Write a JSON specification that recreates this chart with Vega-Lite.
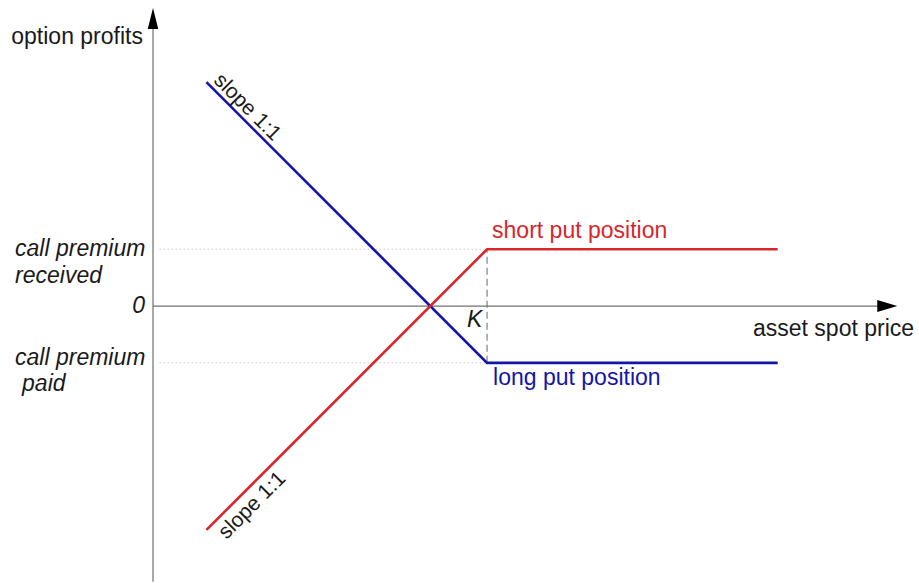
{
  "$schema": "https://vega.github.io/schema/vega-lite/v6.json",
  "width": 919,
  "height": 583,
  "padding": 0,
  "autosize": {"type": "fit", "contains": "padding"},
  "background": "white",
  "config": {"view": {"stroke": null}},
  "encoding": {
    "x": {"field": "x", "type": "quantitative", "scale": {"domain": [-45.8, 229.3], "nice": false, "zero": false}, "axis": null},
    "y": {"field": "y", "type": "quantitative", "scale": {"domain": [-82.9, 91.6], "nice": false, "zero": false}, "axis": null}
  },
  "layer": [
    {
      "data": {"values": [
        {"x": 2, "y": 17, "x2": 100, "y2": 17},
        {"x": 2, "y": -17, "x2": 100, "y2": -17}
      ]},
      "mark": {"type": "rule", "color": "#aaaaaa", "strokeWidth": 1, "strokeDash": [1, 3]},
      "encoding": {"x2": {"field": "x2"}, "y2": {"field": "y2"}}
    },
    {
      "data": {"values": [{"x": 100, "y": -17, "x2": 100, "y2": 17}]},
      "mark": {"type": "rule", "color": "#808080", "strokeWidth": 1.2, "strokeDash": [7, 4]},
      "encoding": {"x2": {"field": "x2"}, "y2": {"field": "y2"}}
    },
    {
      "data": {"values": [
        {"x": 0, "y": -82.5, "x2": 0, "y2": 85},
        {"x": 0, "y": 0, "x2": 219, "y2": 0}
      ]},
      "mark": {"type": "rule", "color": "#707070", "strokeWidth": 1.2},
      "encoding": {"x2": {"field": "x2"}, "y2": {"field": "y2"}}
    },
    {
      "data": {"values": [{"x": 0, "y": 86.1}]},
      "mark": {"type": "point", "shape": "M-0.5,1L0,-1L0.5,1Z", "size": 441, "filled": true, "color": "#000000", "opacity": 1}
    },
    {
      "data": {"values": [{"x": 219.8, "y": 0}]},
      "mark": {"type": "point", "shape": "M-1,-0.6L1,0L-1,0.6Z", "size": 400, "filled": true, "color": "#000000", "opacity": 1}
    },
    {
      "data": {"values": [
        {"series": "long put", "x": 16, "y": 67, "o": 1},
        {"series": "long put", "x": 100, "y": -17, "o": 2},
        {"series": "long put", "x": 187, "y": -17, "o": 3},
        {"series": "short put", "x": 16, "y": -67, "o": 1},
        {"series": "short put", "x": 100, "y": 17, "o": 2},
        {"series": "short put", "x": 187, "y": 17, "o": 3}
      ]},
      "mark": {"type": "line", "strokeWidth": 2.6},
      "encoding": {
        "color": {"field": "series", "type": "nominal", "scale": {"domain": ["long put", "short put"], "range": ["#1414a8", "#d8262c"]}, "legend": null},
        "order": {"field": "o", "type": "quantitative"}
      }
    },
    {
      "data": {"values": [
        {"label": "option profits", "x": -3, "y": 78.5}
      ]},
      "mark": {"type": "text", "font": "Liberation Sans", "fontSize": 23, "color": "#1a1a1a", "align": "right", "baseline": "alphabetic"},
      "encoding": {"text": {"field": "label"}}
    },
    {
      "data": {"values": [
        {"label": "0", "x": -2.4, "y": -2.1}
      ]},
      "mark": {"type": "text", "font": "Liberation Sans", "fontSize": 23, "fontStyle": "italic", "color": "#1a1a1a", "align": "right", "baseline": "alphabetic"},
      "encoding": {"text": {"field": "label"}}
    },
    {
      "data": {"values": [
        {"label": "call premium", "x": -41.3, "y": 15},
        {"label": "received", "x": -41.3, "y": 6.9},
        {"label": "call premium", "x": -41.3, "y": -17.7},
        {"label": "paid", "x": -39.2, "y": -25.4},
        {"label": "K", "x": 94, "y": -6.3}
      ]},
      "mark": {"type": "text", "font": "Liberation Sans", "fontSize": 23, "fontStyle": "italic", "color": "#1a1a1a", "align": "left", "baseline": "alphabetic"},
      "encoding": {"text": {"field": "label"}}
    },
    {
      "data": {"values": [
        {"label": "asset spot price", "x": 179.6, "y": -9.0}
      ]},
      "mark": {"type": "text", "font": "Liberation Sans", "fontSize": 23, "color": "#1a1a1a", "align": "left", "baseline": "alphabetic"},
      "encoding": {"text": {"field": "label"}}
    },
    {
      "data": {"values": [
        {"label": "short put position", "x": 101.5, "y": 20.4, "series": "short put"},
        {"label": "long put position", "x": 101.8, "y": -23.6, "series": "long put"}
      ]},
      "mark": {"type": "text", "font": "Liberation Sans", "fontSize": 23, "align": "left", "baseline": "alphabetic"},
      "encoding": {
        "text": {"field": "label"},
        "color": {"field": "series", "type": "nominal", "scale": {"domain": ["long put", "short put"], "range": ["#2424a0", "#c8323a"]}, "legend": null}
      }
    },
    {
      "data": {"values": [{"label": "slope 1:1", "x": 17.9, "y": 67.2}]},
      "mark": {"type": "text", "font": "Liberation Sans", "fontSize": 21, "align": "left", "baseline": "alphabetic", "angle": 45, "color": "#1a1a1a"},
      "encoding": {"text": {"field": "label"}}
    },
    {
      "data": {"values": [{"label": "slope 1:1", "x": 18.4, "y": -66.4}]},
      "mark": {"type": "text", "font": "Liberation Sans", "fontSize": 21, "align": "left", "baseline": "top", "angle": -45, "color": "#1a1a1a"},
      "encoding": {"text": {"field": "label"}}
    }
  ]
}
